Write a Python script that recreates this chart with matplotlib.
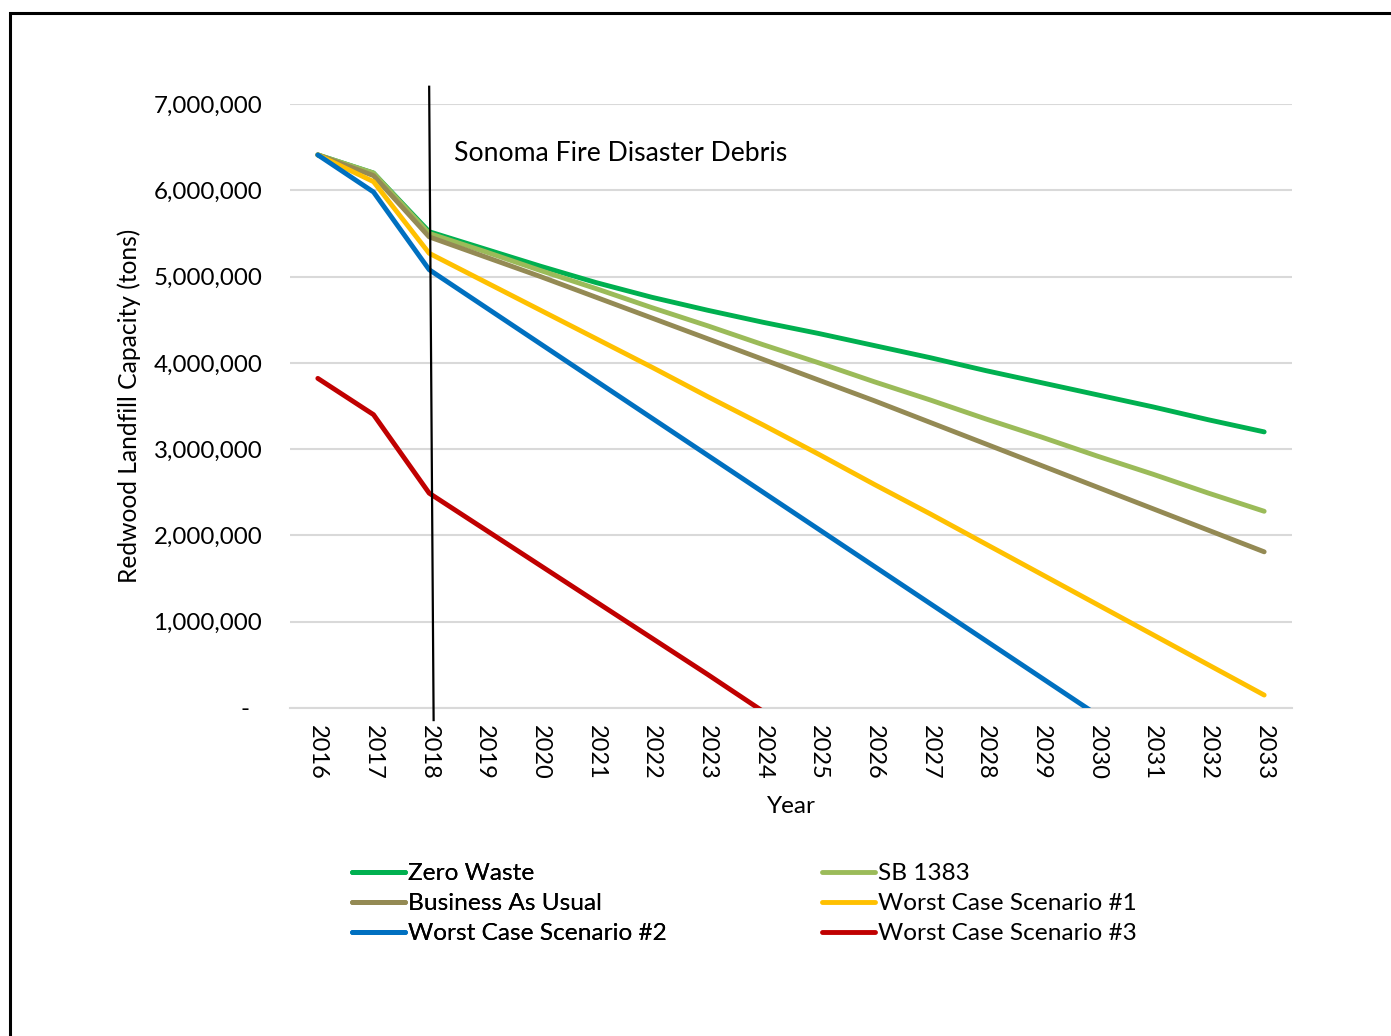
import matplotlib
matplotlib.use("Agg")
import matplotlib.pyplot as plt
from matplotlib.patches import Rectangle
from matplotlib.ticker import FuncFormatter, MultipleLocator
import numpy as np

plt.rcParams['font.family'] = ['Lato', 'DejaVu Sans']

years = list(range(2016, 2034))

# millions of tons
zero_waste = [6.41, 6.20, 5.52, 5.32, 5.12, 4.93, 4.76, 4.61, 4.47, 4.34, 4.20, 4.06, 3.91, 3.77, 3.63, 3.49, 3.34, 3.20]
sb1383 = [6.41, 6.20, 5.50, 5.29, 5.07, 4.86, 4.64, 4.43, 4.21, 4.00, 3.78, 3.57, 3.35, 3.14, 2.92, 2.71, 2.49, 2.28]
business_as_usual = [6.41, 6.17, 5.46, 5.23, 5.00, 4.76, 4.52, 4.28, 4.04, 3.80, 3.56, 3.31, 3.06, 2.81, 2.56, 2.31, 2.06, 1.81]
worst_1 = [6.41, 6.10, 5.27, 4.94, 4.61, 4.28, 3.95, 3.61, 3.28, 2.94, 2.59, 2.25, 1.90, 1.55, 1.20, 0.85, 0.50, 0.15]
worst_2 = [6.41, 5.98, 5.08, 4.65, 4.22, 3.79, 3.36, 2.93, 2.50, 2.07, 1.64, 1.21, 0.78, 0.35, -0.08]
worst_3 = [3.82, 3.40, 2.49, 2.07, 1.65, 1.23, 0.81, 0.39, -0.04]

series = [
    ("Zero Waste", zero_waste, "#00B050"),
    ("SB 1383", sb1383, "#9BBB59"),
    ("Business As Usual", business_as_usual, "#948A54"),
    ("Worst Case Scenario #1", worst_1, "#FFC000"),
    ("Worst Case Scenario #2", worst_2, "#0070C0"),
    ("Worst Case Scenario #3", worst_3, "#C00000"),
]

fig = plt.figure(figsize=(13.91, 10.36), dpi=100)
ax = fig.add_axes([290 / 1391, 1 - 708 / 1036, 1002 / 1391, 604 / 1036])

handles = {}
for name, vals, col in series:
    x = np.arange(len(vals))
    ln, = ax.plot(x, np.array(vals) * 1e6, color=col, lw=3.5, label=name,
                  solid_capstyle='round', solid_joinstyle='round', zorder=3)
    handles[name] = ln

# disaster debris marker line
ax.plot([2.0, 2.08], [7.2e6, -0.14e6], color='black', lw=1.6, clip_on=False, zorder=4)
ax.text(2.45, 6.43e6, "Sonoma Fire Disaster Debris", fontsize=19.2, va='center', ha='left')

ax.set_xlim(-0.5, len(years) - 0.5)
ax.set_ylim(0, 7e6)
ax.set_xticks(range(len(years)))
ax.set_xticklabels([str(y) for y in years], rotation=-90, fontsize=17)
ax.yaxis.set_major_locator(MultipleLocator(1e6))
ax.yaxis.set_major_formatter(FuncFormatter(lambda v, p: "-  " if v == 0 else f"{v:,.0f}"))
ax.tick_params(axis='y', labelsize=17.4, length=0, pad=20)
ax.tick_params(axis='x', length=0, pad=12)
ax.grid(axis='y', color='#D9D9D9', lw=1.5, zorder=0)
for s in ['top', 'right', 'left']:
    ax.spines[s].set_visible(False)
ax.spines['bottom'].set_color('#D9D9D9')
ax.spines['bottom'].set_linewidth(1.5)

ax.set_xlabel("Year", fontsize=17.5, labelpad=12)
ax.set_ylabel("Redwood Landfill Capacity (tons)", fontsize=17.7, labelpad=9)

col1 = ["Zero Waste", "Business As Usual", "Worst Case Scenario #2"]
col2 = ["SB 1383", "Worst Case Scenario #1", "Worst Case Scenario #3"]
leg_kw = dict(loc='upper left', frameon=False, fontsize=17.6, handlelength=2.17,
              handletextpad=0.12, labelspacing=0.37, borderaxespad=0, borderpad=0)
leg1 = fig.legend([handles[n] for n in col1], col1,
                  bbox_to_anchor=(352 / 1391, 1 - 863 / 1036), **leg_kw)
fig.legend([handles[n] for n in col2], col2,
           bbox_to_anchor=(822 / 1391, 1 - 863 / 1036), **leg_kw)
fig.add_artist(leg1)

fig.add_artist(Rectangle((10 / 1391, -0.1), 1.2, 1.1 - 13 / 1036, transform=fig.transFigure,
                         fill=False, edgecolor='black', lw=2.2))

fig.savefig("out.png", dpi=100)
